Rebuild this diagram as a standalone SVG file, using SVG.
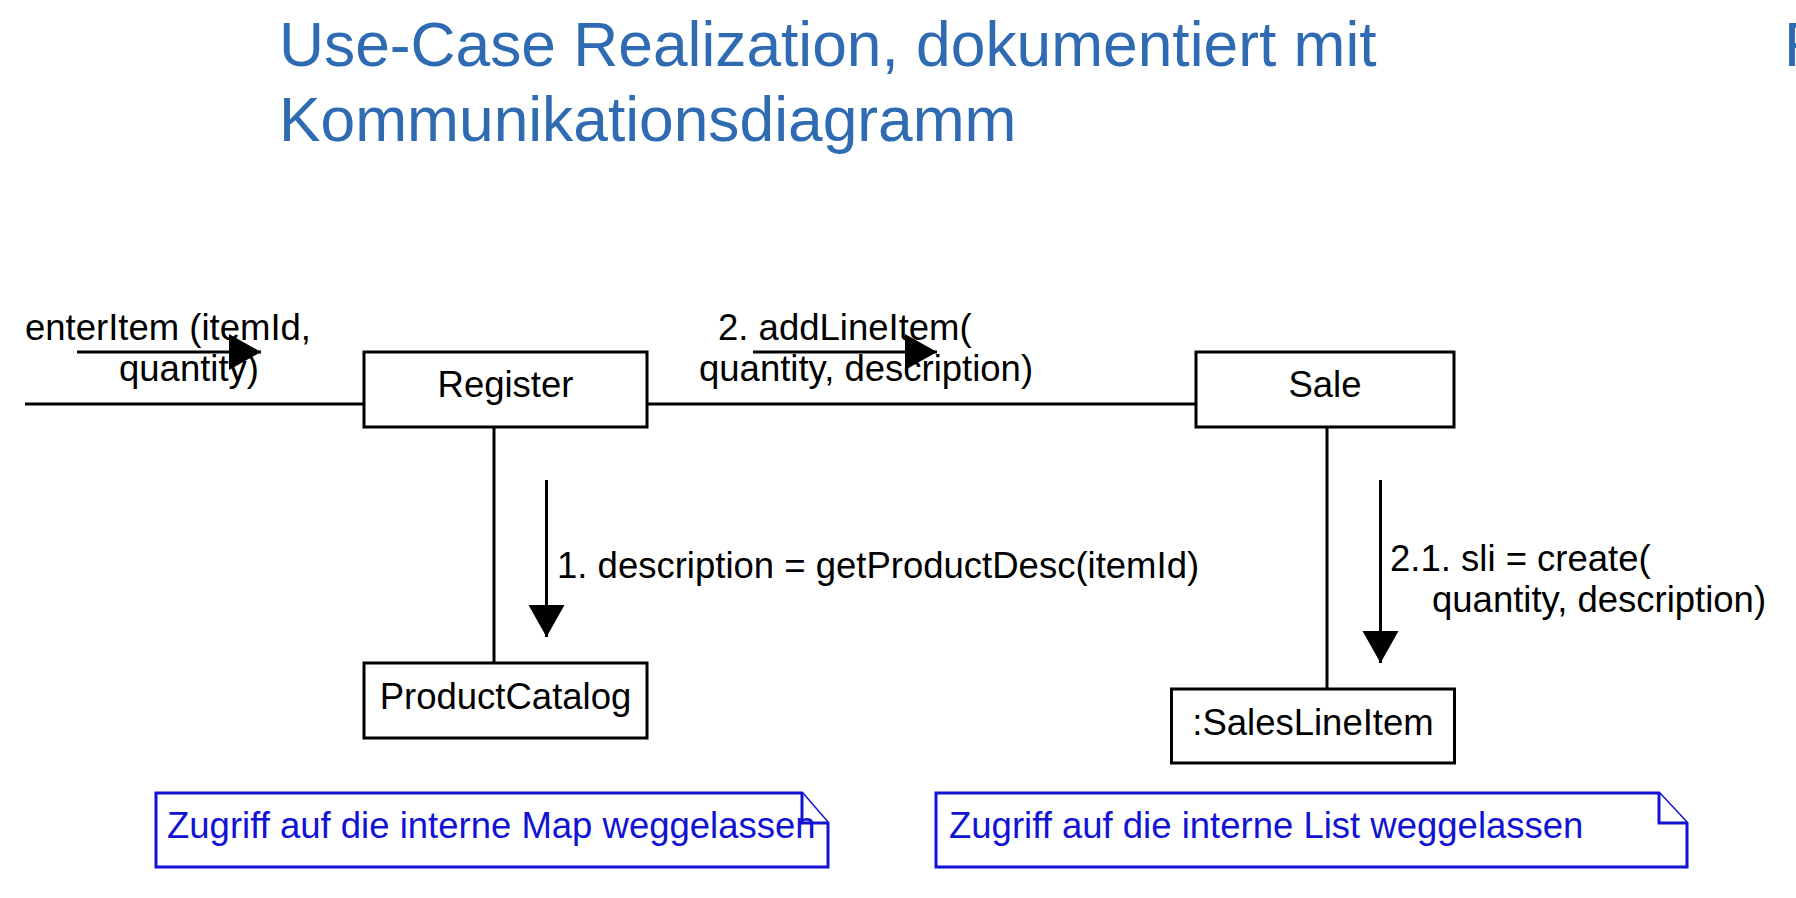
<svg xmlns="http://www.w3.org/2000/svg" width="1796" height="898" viewBox="0 0 1796 898">
<style>
.title{font-family:"Liberation Sans",Arial,sans-serif;font-size:62.3px;fill:#2e6bb2}
.t{font-family:"Liberation Sans",Arial,sans-serif;font-size:36.5px;fill:#000}
.box{fill:#fff;stroke:#000;stroke-width:3}
.ln{stroke:#000;stroke-width:3;fill:none}
.note{fill:#fff;stroke:#1212d4;stroke-width:3;stroke-linejoin:miter}
.nt{font-family:"Liberation Sans",Arial,sans-serif;font-size:36.5px;fill:#1212d4}
</style>
<defs>
<marker id="ah" markerUnits="userSpaceOnUse" markerWidth="32" markerHeight="36" refX="32" refY="18" orient="auto" overflow="visible">
<path d="M0,0 L32,18 L0,36 Z" fill="#000"/>
</marker>
</defs>
<rect width="1796" height="898" fill="#fff"/>
<g id="title">
<text class="title" x="279" y="66">Use-Case Realization, dokumentiert mit</text>
<text class="title" x="279" y="141">Kommunikationsdiagramm</text>
<text class="title" x="1784" y="66">F</text>
</g>
<g id="connectors">
<line class="ln" x1="25" y1="404" x2="364" y2="404"/>
<line class="ln" x1="647" y1="404" x2="1196" y2="404"/>
<line class="ln" x1="494" y1="427" x2="494" y2="663"/>
<line class="ln" x1="1327" y1="427" x2="1327" y2="689"/>
<line class="ln" x1="77" y1="352" x2="261" y2="352" marker-end="url(#ah)"/>
<line class="ln" x1="753" y1="352" x2="937" y2="352" marker-end="url(#ah)"/>
<line class="ln" x1="546.5" y1="480" x2="546.5" y2="637" marker-end="url(#ah)"/>
<line class="ln" x1="1380.5" y1="480" x2="1380.5" y2="663" marker-end="url(#ah)"/>
<text class="t" x="25" y="340">enterItem (itemId,</text>
<text class="t" x="119" y="381">quantity)</text>
<text class="t" x="718" y="340">2. addLineItem(</text>
<text class="t" x="699" y="381">quantity, description)</text>
<text class="t" x="557" y="578">1. description = getProductDesc(itemId)</text>
<text class="t" x="1390" y="571">2.1. sli = create(</text>
<text class="t" x="1432" y="612">quantity, description)</text>
</g>
<g id="register">
<rect class="box" x="364" y="352" width="283" height="75"/>
<text class="t" x="505.5" y="397" text-anchor="middle">Register</text>
</g>
<g id="sale">
<rect class="box" x="1196" y="352" width="258" height="75"/>
<text class="t" x="1325" y="397" text-anchor="middle">Sale</text>
</g>
<g id="productcatalog">
<rect class="box" x="364" y="663" width="283" height="75"/>
<text class="t" x="505.5" y="709" text-anchor="middle">ProductCatalog</text>
</g>
<g id="saleslineitem">
<rect class="box" x="1171.5" y="689" width="283" height="74"/>
<text class="t" x="1313" y="735" text-anchor="middle">:SalesLineItem</text>
</g>
<g id="note-map">
<path class="note" d="M156,793 H802 L828,823 V867 H156 Z"/>
<path class="note" d="M802,793 V823 H828" fill="none"/>
<text class="nt" x="167" y="838">Zugriff auf die interne Map weggelassen</text>
</g>
<g id="note-list">
<path class="note" d="M936,793 H1659 L1687,823 V867 H936 Z"/>
<path class="note" d="M1659,793 V823 H1687" fill="none"/>
<text class="nt" x="949" y="838">Zugriff auf die interne List weggelassen</text>
</g>
</svg>
